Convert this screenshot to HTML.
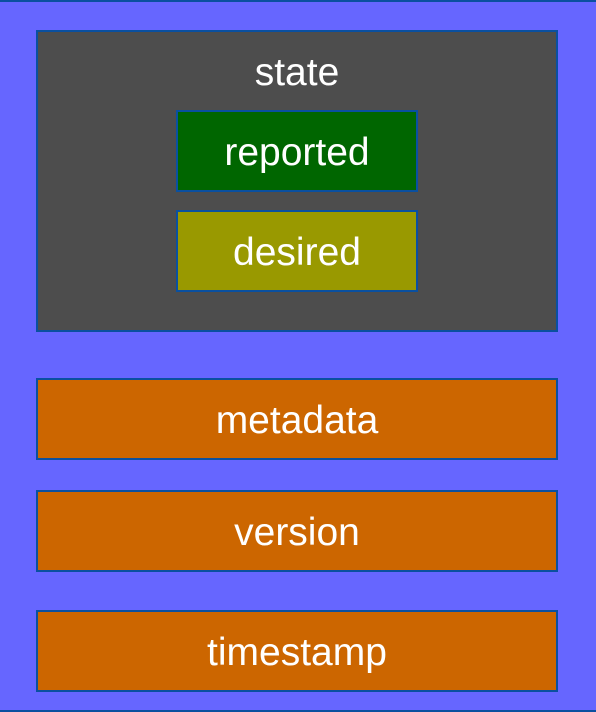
<!DOCTYPE html>
<html><head><meta charset="utf-8"><style>
*{margin:0;padding:0;box-sizing:border-box}
body{width:596px;height:712px;background:#6666ff;position:relative;overflow:hidden;font-family:"Liberation Sans",Arial,sans-serif;color:#fff}
.b{position:absolute;border:2px solid #0a50a0;display:flex;align-items:center;justify-content:center;font-size:39px;padding-top:3px}
.line{position:absolute;left:0;width:596px;height:2px;background:#0a50a0}
</style></head><body>
<div class="line" style="top:0"></div>
<div class="line" style="top:710px"></div>
<div class="b" style="left:36px;top:30px;width:522px;height:302px;background:#4d4d4d;align-items:flex-start;padding-top:19px">state</div>
<div class="b" style="left:176px;top:110px;width:242px;height:82px;background:#006600">reported</div>
<div class="b" style="left:176px;top:210px;width:242px;height:82px;background:#999900">desired</div>
<div class="b" style="left:36px;top:378px;width:522px;height:82px;background:#cc6600">metadata</div>
<div class="b" style="left:36px;top:490px;width:522px;height:82px;background:#cc6600">version</div>
<div class="b" style="left:36px;top:610px;width:522px;height:82px;background:#cc6600">timestamp</div>
</body></html>
